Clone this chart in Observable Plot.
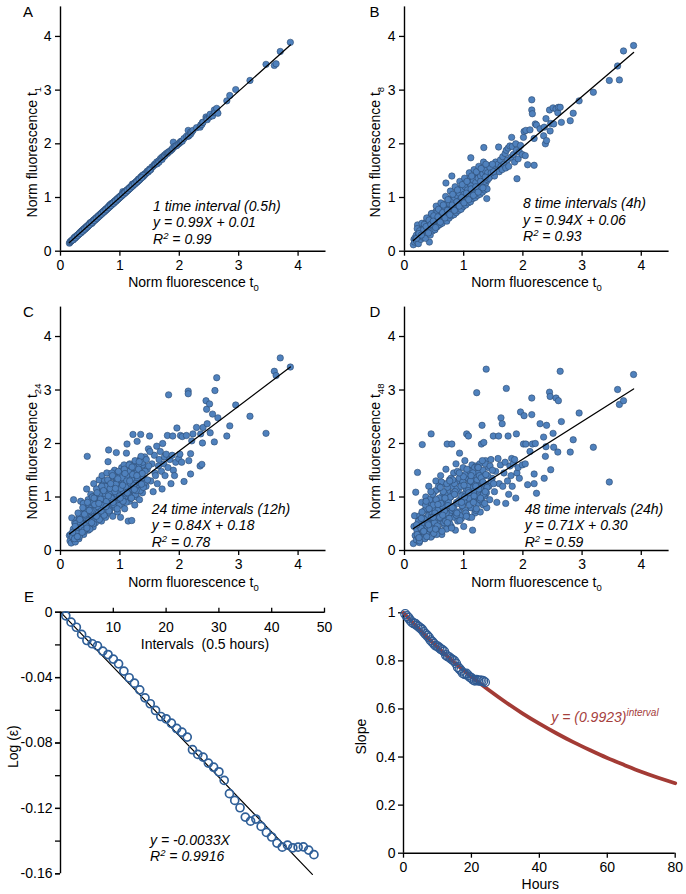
<!DOCTYPE html>
<html><head><meta charset="utf-8">
<script src="https://cdn.jsdelivr.net/npm/d3@7"></script>
<script src="https://cdn.jsdelivr.net/npm/@observablehq/plot@0.6"></script>
<style>
body{margin:0;background:#fff}
#root{position:relative;width:686px;height:894px;overflow:hidden;background:#fff}
</style>
</head><body><div id="root"></div>
<script>
// ---------- DATA ----------
// Normalised fluorescence of the same cells at t0 and after 1, 8, 24, 48 intervals
const t0 = [
0.15,0.16,0.17,0.18,0.19,0.20,0.21,0.22,0.23,0.24,
0.25,0.26,0.27,0.28,0.29,0.30,0.31,0.32,0.33,0.34,
0.35,0.36,0.37,0.38,0.39,0.40,0.41,0.42,0.43,0.44,
0.45,0.46,0.47,0.48,0.49,0.50,0.51,0.52,0.53,0.54,
0.55,0.56,0.57,0.58,0.59,0.60,0.61,0.62,0.63,0.64,
0.65,0.66,0.67,0.68,0.69,0.70,0.71,0.72,0.73,0.74,
0.75,0.76,0.77,0.78,0.79,0.80,0.81,0.82,0.83,0.84,
0.85,0.86,0.87,0.88,0.89,0.90,0.91,0.92,0.93,0.94,
0.95,0.96,0.97,0.98,0.99,1.00,1.01,1.02,1.03,1.04,
1.05,1.06,1.07,1.08,1.09,1.10,1.11,1.12,1.13,1.14,
1.15,1.16,1.17,1.18,1.19,1.20,1.21,1.22,1.23,1.24,
1.25,1.26,1.27,1.28,1.29,1.30,1.31,1.32,1.33,1.34,
1.35,1.36,1.37,1.38,1.39,1.40,
1.42,1.44,1.46,1.48,1.50,1.52,1.54,1.56,1.58,1.59,
1.60,1.62,1.63,1.65,1.66,1.68,1.70,1.71,1.72,1.74,
1.75,1.76,1.78,1.80,1.81,1.82,1.84,1.86,1.88,1.89,
1.90,1.92,1.94,1.96,1.99,2.01,2.02,2.04,2.05,2.08,
2.12,
2.15,2.15,2.16,2.19,2.19,2.21,2.23,2.29,2.35,2.36,
2.38,2.39,2.40,2.45,2.46,2.47,2.51,2.52,2.56,2.59,
2.60,2.63,2.65,2.80,2.85,2.95,3.19,3.46,3.60,3.63,
3.70,3.87,
0.305,0.325,0.345,0.365,0.385,0.405,0.425,0.445,0.465,0.485,
0.505,0.525,0.545,0.565,0.585,0.605,0.625,0.645,0.665,0.685,
0.705,0.725,0.745,0.765,0.785,0.805,0.825,0.845,0.865,0.885,
0.905,0.925,0.945,0.965,0.985,1.005,1.025,1.045,1.065,1.085,
1.105,1.125,1.145,1.165,1.185,1.205,1.225,1.245,1.265,1.285,
1.305,1.325,1.345,1.365,1.385,1.405,1.425,1.445,1.465,1.485,
1.505,
0.215,0.235,0.255,0.275,0.295,0.315,0.335,0.355,0.375,0.395,
0.415,0.435,0.455,0.475,0.495,0.515,0.535,0.555,0.575,0.595,
0.615,0.635,0.655,0.675,0.695,0.715,0.735,0.755,0.775,0.795,
0.815,0.835,0.855,0.875,0.895,0.915,0.935,0.955,0.975,0.995,
1.015,1.035,1.055,1.075,1.095,1.115,1.135,1.155,1.175,1.195,
1.215,1.235,1.255,1.275,1.295,1.315,1.335,1.355,1.375,1.395,
0.205,0.245,0.285,0.325,0.365,0.405,0.445,0.485,0.525,0.565,
0.605,0.645,0.685,0.725,0.765,0.805,0.845,0.885,0.925,0.965,
1.005,1.045,1.085,1.125,1.165,1.205,1.245,1.285,1.325,1.365
];
const t1 = [
.15,.17,.18,.19,.20,.21,.22,.22,.25,.24,
.27,.26,.28,.29,.30,.31,.32,.33,.35,.34,
.37,.36,.39,.38,.41,.40,.43,.42,.45,.44,
.47,.46,.49,.49,.51,.53,.51,.54,.52,.56,
.55,.58,.57,.60,.59,.62,.61,.64,.63,.66,
.65,.68,.67,.70,.69,.72,.71,.74,.73,.76,
.75,.78,.77,.80,.79,.82,.81,.85,.83,.87,
.85,.89,.87,.90,.89,.92,.91,.94,.93,.96,
.95,.98,.97,1.00,.99,1.02,1.01,1.04,1.03,1.06,
1.11,1.06,1.09,1.08,1.11,1.10,1.13,1.12,1.15,1.14,
1.17,1.16,1.19,1.18,1.21,1.20,1.25,1.22,1.25,1.24,
1.27,1.26,1.29,1.28,1.31,1.30,1.34,1.32,1.35,1.34,
1.38,1.37,1.40,1.38,1.42,1.40,
1.44,1.45,1.49,1.48,1.53,1.52,1.57,1.58,1.61,1.62,
1.62,1.66,1.63,1.68,1.66,1.72,1.74,1.71,1.76,1.76,
1.79,1.78,1.82,1.82,1.84,1.85,1.86,1.88,1.90,1.92,
2.03,1.95,1.96,1.97,2.00,2.02,2.04,2.05,2.05,2.10,
2.14,
2.14,2.25,2.15,2.18,2.22,2.22,2.25,2.30,2.31,2.35,
2.36,2.40,2.40,2.50,2.47,2.45,2.50,2.55,2.52,2.63,
2.58,2.66,2.57,2.80,2.90,3.01,3.18,3.48,3.46,3.49,
3.72,3.89,
0.31,0.34,0.35,0.38,0.39,0.42,0.43,0.46,0.47,0.50,
0.51,0.54,0.55,0.58,0.59,0.62,0.63,0.66,0.67,0.70,
0.71,0.74,0.75,0.78,0.79,0.82,0.83,0.86,0.87,0.90,
0.91,0.94,0.95,0.98,0.99,1.02,1.03,1.06,1.07,1.10,
1.11,1.14,1.15,1.18,1.19,1.22,1.23,1.26,1.27,1.30,
1.31,1.34,1.35,1.38,1.39,1.42,1.43,1.46,1.47,1.50,
1.51,
0.22,0.25,0.26,0.29,0.30,0.33,0.34,0.37,0.38,0.41,
0.42,0.45,0.46,0.49,0.50,0.53,0.54,0.57,0.58,0.61,
0.62,0.65,0.66,0.69,0.70,0.73,0.74,0.77,0.78,0.81,
0.82,0.85,0.86,0.89,0.90,0.93,0.94,0.97,0.98,1.01,
1.02,1.05,1.06,1.09,1.10,1.13,1.14,1.17,1.18,1.21,
1.22,1.25,1.26,1.29,1.30,1.33,1.34,1.37,1.38,1.41,
0.21,0.25,0.29,0.33,0.37,0.41,0.45,0.49,0.53,0.57,
0.61,0.65,0.69,0.73,0.77,0.81,0.85,0.89,0.93,0.97,
1.01,1.05,1.09,1.13,1.17,1.21,1.25,1.29,1.33,1.37
];
const t8 = [
.12,.22,.17,.25,.21,.30,.18,.49,.28,.35,
.22,.32,.38,.26,.42,.33,.29,.45,.36,.30,
.52,.40,.34,.58,.44,.38,.62,.17,.48,.55,
.42,.70,.46,.60,.52,.40,.66,.50,.74,.57,
.46,.68,.54,.78,.62,.50,.72,.60,.84,.66,
.56,.76,.64,.88,.70,1.27,.60,.80,.72,.92,
.66,.84,.76,.98,.70,1.40,.86,.74,1.02,.80,
.92,.72,1.08,.86,.96,.78,1.12,.90,1.00,.84,
1.18,.94,1.06,.82,1.25,.98,1.10,.88,1.30,1.02,
1.16,.92,1.35,1.06,.94,1.20,1.08,1.74,.98,1.26,
1.12,1.02,1.38,1.16,1.04,1.30,1.10,1.45,1.20,1.08,
1.40,1.24,1.52,1.14,1.34,1.22,1.48,1.28,1.18,1.93,
1.36,1.55,1.26,1.44,.98,1.32,
1.50,1.38,1.60,1.42,1.55,1.40,1.66,1.50,1.62,1.94,
1.48,1.70,1.58,1.52,1.76,1.62,1.82,1.55,1.88,1.70,
1.92,1.58,1.96,1.75,2.12,1.95,1.80,1.66,2.00,1.88,
1.35,1.72,1.85,1.97,1.80,2.12,2.23,1.78,2.25,1.61,
2.26,
2.82,2.63,2.56,2.10,1.60,2.37,2.35,2.28,2.15,2.31,
2.00,2.47,2.06,2.63,2.24,2.38,2.67,2.37,2.65,2.58,
2.68,2.68,2.40,2.43,2.57,2.80,2.96,3.18,3.45,3.19,
3.73,3.83,
0.40,0.26,0.46,0.32,0.50,0.36,0.56,0.40,0.64,0.44,
0.58,0.70,0.48,0.62,0.56,0.76,0.62,0.80,0.58,0.78,
0.68,0.90,0.74,0.88,0.78,0.94,0.82,1.00,0.84,1.04,
0.88,1.08,0.96,1.14,0.92,1.06,1.20,0.96,1.14,1.28,
1.04,1.22,1.12,1.32,1.10,1.28,1.16,1.36,1.20,1.40,
1.26,1.44,1.30,1.50,1.34,1.46,1.36,1.56,1.46,1.62,
1.48,
0.42,0.14,0.38,0.22,0.52,0.26,0.50,0.24,0.62,0.34,
0.58,0.30,0.70,0.38,0.66,0.40,0.84,0.46,0.78,0.50,
0.90,0.52,0.86,0.58,1.02,0.56,0.96,0.62,1.12,0.66,
1.06,0.68,1.20,0.72,1.14,0.76,1.30,0.78,1.24,0.84,
1.36,0.86,1.30,0.90,1.46,0.92,1.40,0.98,1.52,1.00,
1.48,1.04,1.58,1.06,1.54,1.10,1.66,1.14,1.62,1.16,
0.24,0.33,0.30,0.40,0.46,0.34,0.50,0.56,0.44,0.64,
0.54,0.72,0.62,0.76,0.68,0.86,0.76,0.92,0.84,1.00,
0.90,1.08,0.96,1.16,1.04,1.20,1.10,1.30,1.18,1.38
];
const t24 = [
.28,.18,.30,.14,.61,.25,.35,.95,.20,.52,
.16,.40,.28,.58,.45,.36,.22,.62,.48,.92,
.33,.55,.42,.70,.30,.50,.78,.45,.60,1.15,
1.76,.52,.38,.85,.65,.48,1.05,.72,.58,.90,
.44,1.25,.66,.80,.52,.98,.75,1.10,.60,.88,
1.32,.70,.95,1.18,.55,1.40,.82,1.02,.68,1.30,
.90,.62,1.12,1.45,.78,1.66,1.88,.96,.70,1.22,
1.05,.85,1.38,.64,1.15,.92,1.50,.80,1.28,1.83,
1.02,.72,1.20,1.42,.95,1.10,.62,1.32,1.55,.88,
1.08,1.25,1.60,.78,1.40,1.00,1.82,1.99,1.18,.55,
1.48,.92,1.35,1.58,1.05,.56,1.25,2.17,1.12,1.45,
.85,1.62,1.30,1.00,2.04,1.40,1.18,1.55,.95,1.70,
2.17,1.28,1.48,1.08,1.60,1.35,
1.75,1.20,1.52,1.90,2.14,1.30,1.62,1.10,1.78,1.45,
1.40,1.95,1.25,1.58,1.70,1.85,1.48,1.15,2.00,1.62,
1.75,1.40,1.80,2.15,1.55,2.91,1.70,1.25,1.78,2.14,
1.50,1.40,1.65,2.29,1.72,1.80,2.15,1.65,2.13,1.29,
2.15,
2.98,2.93,1.68,1.81,1.43,2.05,2.18,2.30,1.58,2.18,
1.61,2.01,2.30,2.80,2.64,2.37,2.74,2.20,2.55,2.03,
2.99,3.23,2.48,2.14,2.33,2.72,2.51,2.19,3.35,3.27,
3.60,3.43,
0.55,0.30,0.68,0.40,0.88,0.36,0.62,0.50,0.95,0.42,
0.78,0.60,1.00,0.75,0.58,1.15,0.82,0.66,1.05,0.90,
1.22,0.76,1.00,1.20,0.88,1.30,0.76,1.10,1.45,0.96,
1.25,0.88,1.36,1.12,0.84,1.40,1.18,0.96,1.50,1.22,
0.90,1.38,1.10,1.62,0.98,1.35,1.20,1.55,1.05,1.45,
1.22,1.62,1.12,1.40,1.65,1.25,1.48,1.70,1.32,1.58,
1.85,
0.40,0.22,0.50,0.32,0.70,0.26,0.52,0.44,0.80,0.38,
0.66,0.48,0.90,0.56,0.40,0.74,1.00,0.50,0.86,0.64,
1.08,0.70,0.58,0.96,1.20,0.84,0.66,1.06,0.92,1.32,
0.74,1.16,0.98,1.40,0.86,1.10,1.24,0.78,1.48,1.02,
1.16,1.36,0.92,1.52,1.20,1.30,1.06,1.60,1.26,0.98,
1.42,1.22,1.68,1.12,1.36,1.52,1.26,1.76,1.44,1.18,
0.34,0.45,0.26,0.58,0.34,0.68,0.42,0.75,0.52,0.98,
0.64,0.88,0.74,1.12,0.82,1.02,1.25,0.90,1.16,1.34,
0.98,1.22,1.44,1.08,1.30,1.56,1.14,1.40,1.66,1.24
];
const t48 = [
.13,.45,.65,.28,1.09,.20,.38,1.46,.25,.55,
.15,.65,.32,.22,.90,1.98,.42,.60,.28,.75,
.48,1.00,.35,.62,.88,.30,1.20,.52,.40,.70,
2.18,.95,.28,.58,1.08,.45,.80,.35,1.30,.62,
.50,.92,.40,1.15,.72,.55,1.40,.85,.30,1.02,
.62,1.25,.48,.95,.78,1.52,.40,1.99,.88,1.10,
.58,1.32,.70,1.00,.45,1.99,1.20,.82,1.45,.62,
1.05,.38,1.62,.90,1.30,.55,1.12,.72,1.82,.95,
1.40,.60,1.22,.82,1.55,.45,1.05,1.68,.75,1.15,
2.18,.90,1.35,2.14,.62,1.28,1.00,1.50,.80,1.60,
.38,1.18,.95,1.42,.70,1.10,1.58,2.95,1.25,.88,
1.45,1.05,1.62,.72,1.30,1.99,2.34,1.12,.85,2.02,
1.40,1.02,1.68,3.39,.80,1.22,
1.55,0.95,1.70,1.35,2.14,1.10,1.48,0.90,1.72,2.14,
1.25,1.60,2.48,2.37,1.20,1.45,1.65,0.88,3.03,1.30,
2.14,1.05,1.58,1.40,1.72,1.20,1.62,1.70,0.98,2.18,
1.45,1.55,1.35,2.59,1.60,1.99,2.52,1.62,1.99,1.23,
1.85,
2.85,2.54,1.99,1.25,1.43,2.00,1.07,2.37,2.12,1.35,
1.76,1.94,2.34,2.96,2.88,1.51,2.19,1.93,2.85,1.84,
2.80,3.35,2.41,1.84,2.07,2.57,1.93,1.28,3.01,2.73,
2.80,3.29,
0.35,0.52,0.22,0.78,0.45,0.65,0.95,0.25,0.68,0.85,
0.52,1.12,0.30,0.75,0.98,0.60,1.28,0.82,0.52,1.05,
0.70,1.18,0.92,0.50,1.35,0.75,1.08,1.25,0.68,1.15,
0.88,1.35,0.65,1.02,1.28,0.92,1.42,0.68,1.20,0.98,
1.48,0.80,1.30,1.10,1.55,0.75,1.32,1.00,1.40,1.15,
0.92,1.50,1.25,1.62,1.08,1.40,1.20,1.58,1.30,1.50,
1.25,
0.30,0.55,0.18,0.42,0.72,0.35,0.58,0.85,0.26,0.50,
0.78,0.40,0.62,1.05,0.32,0.70,0.95,0.46,1.20,0.62,
0.88,0.36,1.10,0.74,0.55,1.25,0.84,0.60,1.00,0.42,
1.32,0.78,1.10,0.66,1.48,0.92,0.56,1.20,0.84,1.38,
1.00,0.70,1.52,1.12,0.85,1.30,0.62,1.45,1.02,1.22,
0.78,1.56,1.15,0.95,1.36,1.68,1.05,0.88,1.42,1.18,
0.48,0.24,0.60,0.36,0.92,0.48,1.10,0.62,0.40,0.86,
1.18,0.66,0.98,0.52,1.30,0.80,1.05,0.70,1.45,0.90,
1.22,0.64,1.08,1.40,0.90,1.20,1.55,0.98,1.28,1.10
];
// Regression line end points (x = t0)
const fitX = [0.15, 3.87];
const fitT1 = [0.16, 3.84];
const fitT8 = [0.20, 3.70];
const fitT24 = [0.31, 3.43];
const fitT48 = [0.41, 3.02];
const scatterTicks = [0, 1, 2, 3, 4];

// Panel E: log(epsilon) per interval
const intervalsE = [1,2,3,4,5,6,7,8,9,10,11,12,13,14,15,16,17,18,19,20,21,22,23,24,25,26,27,28,29,30,31,32,33,34,35,36,37,38,39,40,41,42,43,44,45,46,47,48];
const logEps = [-0.0022,-0.0061,-0.0092,-0.0136,-0.0173,-0.0193,-0.0206,-0.0238,-0.0259,-0.0287,
-0.0316,-0.0360,-0.0401,-0.0434,-0.0475,-0.0524,-0.0560,-0.0601,-0.0638,-0.0652,
-0.0679,-0.0711,-0.0734,-0.0764,-0.0841,-0.0870,-0.0886,-0.0923,-0.0948,-0.0976,
-0.1029,-0.1110,-0.1151,-0.1196,-0.1253,-0.1278,-0.1265,-0.1310,-0.1347,-0.1375,
-0.1412,-0.1437,-0.1425,-0.1441,-0.1437,-0.1435,-0.1455,-0.1483];
const fitEX = [0, 47.7];
const fitEY = [0, -0.1604];
const xTicksE = [10, 20, 30, 40, 50];
const yTicksE = [0, -0.04, -0.08, -0.12, -0.16];
const yMinorE = [0, -0.02, -0.04, -0.06, -0.08, -0.10, -0.12, -0.14, -0.16];

// Panel F: slope vs hours, and exponential fit curve
const hoursF = [0.5,1,1.5,2,2.5,3,3.5,4,4.5,5,5.5,6,6.5,7,7.5,8,8.5,9,9.5,10,10.5,11,11.5,12,12.5,13,13.5,14,14.5,15,15.5,16,16.5,17,17.5,18,18.5,19,19.5,20,20.5,21,21.5,22,22.5,23,23.5,24];
const slopeF = [0.995,0.986,0.979,0.969,0.961,0.956,0.954,0.947,0.942,0.936,
0.930,0.920,0.912,0.905,0.897,0.886,0.879,0.871,0.863,0.861,
0.855,0.849,0.845,0.839,0.824,0.818,0.815,0.809,0.804,0.799,
0.789,0.774,0.767,0.759,0.749,0.745,0.747,0.740,0.733,0.729,
0.722,0.718,0.721,0.718,0.718,0.718,0.716,0.711];
const curveHours = [0,5,10,15,20,25,30,35,40,45,50,55,60,65,70,75,80];
const curveSlope = [1.000,0.926,0.857,0.793,0.734,0.680,0.629,0.582,0.539,0.499,0.462,0.428,0.396,0.367,0.339,0.314,0.291];
const xTicksF = [0, 20, 40, 60, 80];
const yTicksF = [0, 0.2, 0.4, 0.6, 0.8, 1];

// ---------- DRAWING ----------
const FONT = "'Liberation Sans', Arial, Helvetica, sans-serif";
const FS = 14;
const DOT_FILL = "#4f81bd", DOT_STROKE = "#2c4a70";
const root = document.getElementById("root");

function place(fig, left, top) {
  Object.assign(fig.style, {position: "absolute", left: left + "px", top: top + "px",
    background: "transparent", overflow: "visible", fontFamily: FONT, fontSize: FS + "px", maxWidth: "none"});
  root.appendChild(fig);
}
function addText(svg, {x, y, parts, anchor = "start", italic = false, rotate = false, fill = "#000", size = FS}) {
  const t = d3.select(svg).append("text")
    .attr("font-family", FONT).attr("font-size", size).attr("fill", fill).attr("text-anchor", anchor);
  if (italic) t.attr("font-style", "italic");
  if (rotate) t.attr("transform", `translate(${x},${y}) rotate(-90)`);
  else t.attr("x", x).attr("y", y);
  for (const p of parts) {
    const s = t.append("tspan").text(p.t);
    if (p.size) s.attr("font-size", p.size);
    if (p.dy) s.attr("dy", p.dy);
  }
}

function scatterPanel(c) {
  const pts = t0.map((x, i) => ({x, y: c.yv[i]}));
  const fig = Plot.plot({
    width: 343, height: c.h,
    marginTop: c.mt, marginBottom: c.mb, marginLeft: c.ml, marginRight: c.mr,
    x: {domain: [0, 4.47]}, y: {domain: [0, 4.55]},
    marks: [
      Plot.dot(pts, {x: "x", y: "y", r: 3.2, fill: DOT_FILL, stroke: DOT_STROKE, strokeWidth: 0.6}),
      Plot.line(fitX, {x: fitX, y: c.fitY, stroke: "#000", strokeWidth: 1.3}),
      Plot.ruleX([0], {stroke: "#000", strokeWidth: 1.4}),
      Plot.ruleY([0], {stroke: "#000", strokeWidth: 1.4}),
      Plot.axisX({ticks: scatterTicks, tickSize: 5, tickPadding: 4, label: null, fontSize: FS, strokeWidth: 1.3, stroke: "#000", fill: "#000", tickFormat: d => String(d)}),
      Plot.axisY({ticks: scatterTicks, tickSize: 5, tickPadding: 4, label: null, fontSize: FS, strokeWidth: 1.3, stroke: "#000", fill: "#000", tickFormat: d => String(d)})
    ]
  });
  const axisY0 = c.h - c.mb;
  addText(fig, {x: c.letterX, y: c.mt + 10.5, parts: [{t: c.letter}], size: 15});
  addText(fig, {x: 193.5, y: axisY0 + 36.6, anchor: "middle",
    parts: [{t: "Norm fluorescence t"}, {t: "0", size: 9.5, dy: 4}]});
  addText(fig, {x: 36.5, y: axisY0 - 98.5, anchor: "middle", rotate: true,
    parts: [{t: "Norm fluorescence t"}, {t: c.sub, size: 9.5, dy: 4}]});
  addText(fig, {x: c.noteX, y: c.noteY, italic: true, parts: [{t: c.notes[0]}]});
  addText(fig, {x: c.noteX, y: c.noteY + 16.7, italic: true, parts: [{t: c.notes[1]}]});
  addText(fig, {x: c.noteX, y: c.noteY + 33.4, italic: true,
    parts: [{t: "R"}, {t: "2", size: 9.5, dy: -5}, {t: " = " + c.notes[2], dy: 5}]});
  place(fig, c.left, c.top);
}

scatterPanel({yv: t1, fitY: fitT1, sub: "1", letter: "A", letterX: 23,
  notes: ["1 time interval (0.5h)", "y = 0.99X + 0.01", "0.99"],
  left: 0, top: 0, h: 290, mt: 6.4, mb: 39.3, ml: 60, mr: 17.5, noteX: 153, noteY: 210.5});
scatterPanel({yv: t8, fitY: fitT8, sub: "8", letter: "B", letterX: 26.5,
  notes: ["8 time intervals (4h)", "y = 0.94X + 0.06", "0.93"],
  left: 343, top: 0, h: 290, mt: 6.4, mb: 39.3, ml: 61, mr: 17.4, noteX: 180, noteY: 208});
scatterPanel({yv: t24, fitY: fitT24, sub: "24", letter: "C", letterX: 23,
  notes: ["24 time intervals (12h)", "y = 0.84X + 0.18", "0.78"],
  left: 0, top: 290, h: 305, mt: 16.6, mb: 45, ml: 60, mr: 17.5, noteX: 151.7, noteY: 223.5});
scatterPanel({yv: t48, fitY: fitT48, sub: "48", letter: "D", letterX: 26.5,
  notes: ["48 time intervals (24h)", "y = 0.71X + 0.30", "0.59"],
  left: 343, top: 290, h: 305, mt: 16.6, mb: 45, ml: 61, mr: 17.4, noteX: 181.7, noteY: 223.5});

// Panel E
{
  const fig = Plot.plot({
    width: 343, height: 314, marginTop: 31.7, marginBottom: 20.7, marginLeft: 60, marginRight: 19,
    x: {domain: [0, 50]}, y: {domain: [-0.16, 0]},
    marks: [
      Plot.ruleX([0], {stroke: "#000", strokeWidth: 1.4}),
      Plot.ruleY([0], {stroke: "#000", strokeWidth: 1.4}),
      Plot.axisX({anchor: "top", ticks: xTicksE, tickSize: 5, tickFormat: () => "", label: null, strokeWidth: 1.3, stroke: "#000"}),
      Plot.text(xTicksE, {x: d => d, y: 0, dy: 15, text: d => String(d), fontSize: FS, fill: "#000"}),
      Plot.axisY({ticks: yMinorE, tickSize: 5, tickFormat: () => "", label: null, strokeWidth: 1.3, stroke: "#000"}),
      Plot.axisY({ticks: yTicksE, tickSize: 5, tickPadding: 3, label: null, fontSize: FS, strokeWidth: 1.3, stroke: "#000", fill: "#000",
        tickFormat: d => d === 0 ? "0" : d.toFixed(2)}),
      Plot.line(fitEX, {x: fitEX, y: fitEY, stroke: "#000", strokeWidth: 1.2}),
      Plot.dot(intervalsE, {x: intervalsE, y: logEps, r: 4, stroke: "#2f5f98", strokeWidth: 1.7, fill: "none"})
    ]
  });
  addText(fig, {x: 24, y: 21.7, parts: [{t: "E"}], size: 15});
  addText(fig, {x: 205, y: 68.5, anchor: "middle", parts: [{t: "Intervals  (0.5 hours)"}]});
  addText(fig, {x: 18, y: 166.7, anchor: "middle", rotate: true, parts: [{t: "Log (ε)"}]});
  addText(fig, {x: 150, y: 264.5, italic: true, parts: [{t: "y = -0.0033X"}]});
  addText(fig, {x: 150, y: 280.5, italic: true, parts: [{t: "R"}, {t: "2", size: 9.5, dy: -5}, {t: " = 0.9916", dy: 5}]});
  place(fig, 0, 580);
}

// Panel F
{
  const fig = Plot.plot({
    width: 343, height: 314, marginTop: 32.3, marginBottom: 41.3, marginLeft: 60, marginRight: 11.3,
    x: {domain: [0, 80]}, y: {domain: [0, 1]},
    marks: [
      Plot.ruleX([0], {stroke: "#000", strokeWidth: 1.4}),
      Plot.ruleY([0], {stroke: "#000", strokeWidth: 1.4}),
      Plot.axisX({ticks: xTicksF, tickSize: 5, tickPadding: 4, label: null, fontSize: FS, strokeWidth: 1.3, stroke: "#000", fill: "#000"}),
      Plot.axisY({ticks: yTicksF, tickSize: 5, tickPadding: 3, label: null, fontSize: FS, strokeWidth: 1.3, stroke: "#000", fill: "#000",
        tickFormat: d => String(d)}),
      Plot.line(curveHours, {x: curveHours, y: curveSlope, curve: "natural", stroke: "#a33b35", strokeWidth: 3.8}),
      Plot.dot(hoursF, {x: hoursF, y: slopeF, r: 4.4, stroke: "#2f5a92", strokeWidth: 1.3, fill: "none"})
    ]
  });
  addText(fig, {x: 26.7, y: 21.7, parts: [{t: "F"}], size: 15});
  addText(fig, {x: 197.3, y: 308.5, anchor: "middle", parts: [{t: "Hours"}]});
  addText(fig, {x: 23, y: 156.7, anchor: "middle", rotate: true, parts: [{t: "Slope"}]});
  addText(fig, {x: 208.3, y: 142, italic: true, fill: "#a5403c",
    parts: [{t: "y = (0.9923)"}, {t: "interval", size: 10, dy: -6}]});
  place(fig, 343, 580);
}
</script></body></html>
